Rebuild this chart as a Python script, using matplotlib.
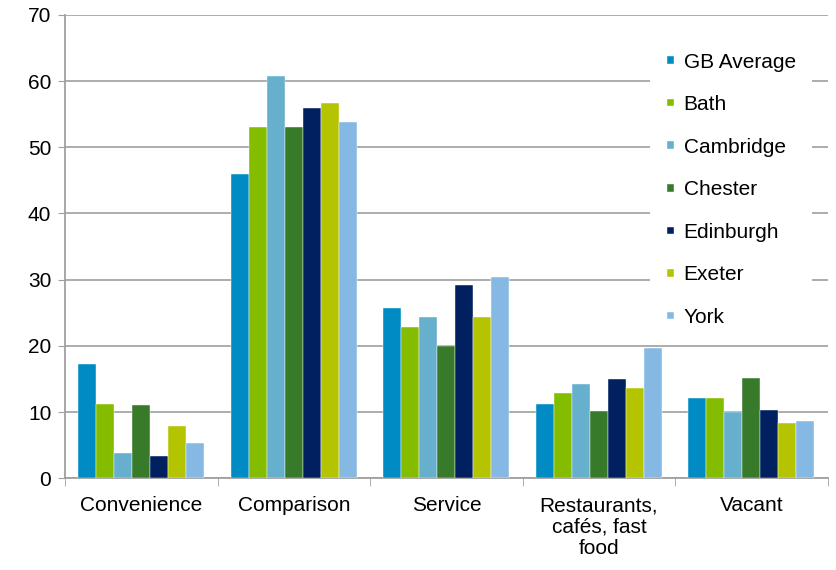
import numpy as np
import matplotlib.pyplot as plt

plt.rcParams['font.family'] = ['Liberation Sans', 'DejaVu Sans']

# -------------------------------------------------------------------
# Data
# -------------------------------------------------------------------
categories = ["Convenience", "Comparison", "Service",
              "Restaurants,\ncafés, fast\nfood", "Vacant"]
series_names = ["GB Average", "Bath", "Cambridge", "Chester",
                "Edinburgh", "Exeter", "York"]
gb_average = [17.2, 45.9, 25.7, 11.2, 12.1]
bath = [11.2, 53.1, 22.8, 12.8, 12.1]
cambridge = [3.8, 60.7, 24.4, 14.3, 10.0]
chester = [11.0, 53.1, 19.9, 10.1, 15.1]
edinburgh = [3.4, 55.9, 29.2, 15.0, 10.3]
exeter = [7.9, 56.7, 24.4, 13.6, 8.3]
york = [5.3, 53.8, 30.4, 19.6, 8.7]
values = [gb_average, bath, cambridge, chester, edinburgh, exeter, york]
colors = ["#008bc4", "#84bc00", "#66afcd", "#367a2a",
          "#002060", "#b5c400", "#85b9e3"]

fig = plt.figure(figsize=(8.36, 5.70), dpi=100)
ax = fig.add_axes([0.078, 0.161, 0.912, 0.813])

x = np.arange(len(categories))
n = len(series_names)
width = 0.118
for i, (name, vals, col) in enumerate(zip(series_names, values, colors)):
    offs = (i - (n - 1) / 2) * width
    ax.bar(x + offs, vals, width, color=col, label=name, zorder=3,
           edgecolor="white", linewidth=0.3)

ax.set_xlim(-0.5, len(categories) - 0.5)
ax.set_ylim(0, 70)
ax.set_yticks(range(0, 71, 10))
ax.tick_params(axis='y', labelsize=15, length=5, color="#a0a0a0", pad=5)

# category labels centred, ticks on the boundaries
ax.set_xticks(x)
ax.set_xticklabels(categories, fontsize=15, linespacing=1.15)
ax.set_xticks(np.arange(-0.5, len(categories)), minor=True)
ax.tick_params(axis='x', which='major', length=0, pad=13)
ax.tick_params(axis='x', which='minor', length=6, color="#a0a0a0")

ax.grid(axis='y', color="#a6a6a6", linewidth=1.3, zorder=0)
ax.set_axisbelow(True)
for s in ["top", "right"]:
    ax.spines[s].set_visible(False)
for s in ["left", "bottom"]:
    ax.spines[s].set_color("#a0a0a0")
    ax.spines[s].set_linewidth(1.3)

leg = ax.legend(loc="upper left", bbox_to_anchor=(650 / 836, 1 - 36 / 570),
                bbox_transform=fig.transFigure, fontsize=15,
                frameon=True, fancybox=False, framealpha=1,
                handlelength=0.36, handleheight=0.18, handletextpad=0.45,
                labelspacing=1.13, borderpad=0.8, borderaxespad=0)
leg.get_frame().set_edgecolor("none")
leg.get_frame().set_facecolor("white")

fig.savefig("out.png", dpi=100)
